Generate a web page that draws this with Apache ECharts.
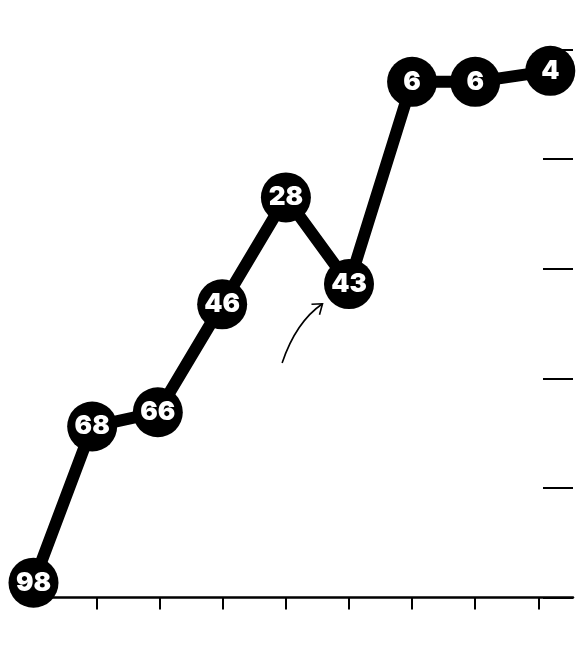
<!DOCTYPE html>
<html>
<head>
<meta charset="utf-8">
<script src="https://cdn.jsdelivr.net/npm/echarts@6/dist/echarts.min.js"></script>
<style>
html,body{margin:0;padding:0;background:#fff;}
#chart{width:578px;height:654px;}
</style>
</head>
<body>
<div id="chart"></div>
<script>
// x positions (axis units) of each point
var xValues = [0, 0.93, 1.97, 2.99, 4.0, 5.0, 6.0, 7.0, 8.19];
// vertical positions (inverted rank scale)
var yValues = [97.3, 68.8, 66.2, 46.5, 27.0, 42.8, 5.9, 5.9, 3.9];
// labels shown inside the markers
var pointLabels = ['98', '68', '66', '46', '28', '43', '6', '6', '4'];
// bottom axis tick positions
var xTicks = [1, 2, 3, 4, 5, 6, 7, 8];
// annotation arrow (start, control, end) in axis units
var arrowStart = [3.94, 57.2];
var arrowControl = [4.16, 49.7];
var arrowEnd = [4.58, 46.4];

var chart = echarts.init(document.getElementById('chart'));
var data = xValues.map(function (x, i) { return [x, yValues[i]]; });

chart.setOption({
  animation: false,
  backgroundColor: '#ffffff',
  grid: { left: 33.5, right: 5, top: 49.5, bottom: 56.5, containLabel: false },
  xAxis: {
    type: 'value',
    position: 'bottom',
    min: 0,
    max: 8.55,
    interval: 1,
    z: 0,
    splitLine: { show: false },
    axisLine: { show: true, onZero: false, lineStyle: { color: '#000', width: 2.5 } },
    axisTick: { show: true, customValues: xTicks, length: 12, lineStyle: { color: '#000', width: 2 } },
    axisLabel: { show: false }
  },
  yAxis: {
    type: 'value',
    position: 'right',
    inverse: true,
    min: 0,
    max: 100,
    interval: 20,
    z: 0,
    splitLine: { show: false },
    axisLine: { show: false, onZero: false },
    axisTick: { show: true, inside: true, length: 30, lineStyle: { color: '#000', width: 2 } },
    axisLabel: { show: false }
  },
  series: [{
    type: 'line',
    z: 5,
    data: data,
    clip: false,
    symbol: 'circle',
    symbolSize: 50,
    itemStyle: { color: '#000' },
    lineStyle: { color: '#000', width: 12 },
    label: {
      show: true,
      position: 'inside',
      color: '#fff',
      fontFamily: 'Inter, sans-serif',
      fontWeight: 900,
      fontSize: 26,
      formatter: function (p) { return pointLabels[p.dataIndex]; }
    }
  }]
});

var p0 = chart.convertToPixel({ gridIndex: 0 }, arrowStart);
var p1 = chart.convertToPixel({ gridIndex: 0 }, arrowControl);
var p2 = chart.convertToPixel({ gridIndex: 0 }, arrowEnd);
chart.setOption({
  graphic: [
    {
      type: 'bezierCurve',
      z: 10,
      shape: { x1: p0[0], y1: p0[1], cpx1: p1[0], cpy1: p1[1], x2: p2[0], y2: p2[1] },
      style: { stroke: '#000', lineWidth: 1.6, fill: null }
    },
    {
      type: 'polyline',
      z: 10,
      shape: { points: [[p2[0] - 11, p2[1] + 0.5], [p2[0], p2[1]], [p2[0] - 3, p2[1] + 11]] },
      style: { stroke: '#000', lineWidth: 1.6, fill: null }
    }
  ]
});
</script>
</body>
</html>
